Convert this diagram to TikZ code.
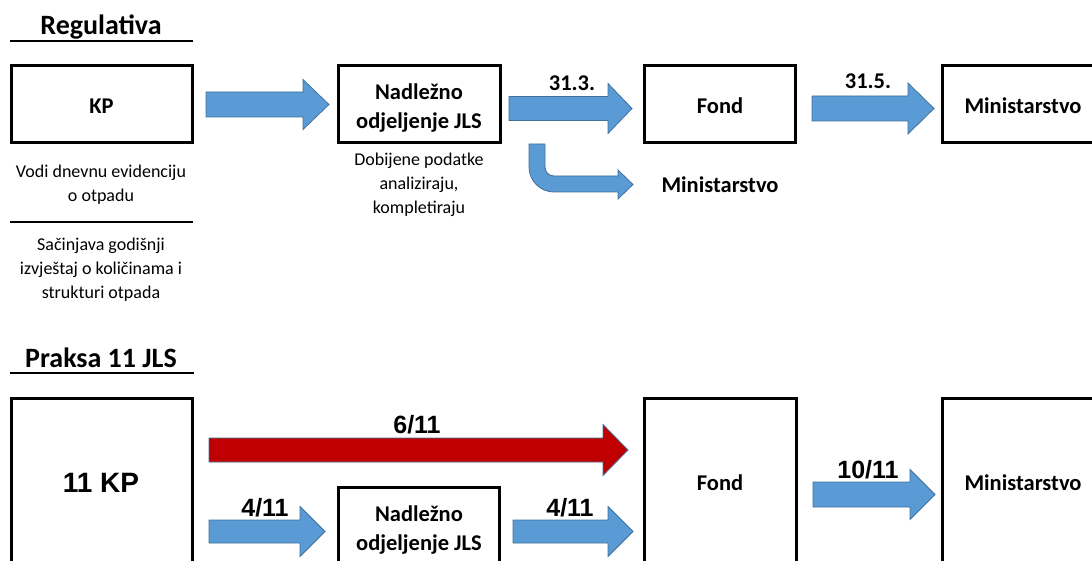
\documentclass[tikz,border=0pt]{standalone}
\usepackage{fontspec}
\setmainfont{Carlito}
\newfontfamily\arialf{Liberation Sans}
\definecolor{arrblue}{HTML}{5B9BD5}
\definecolor{arredge}{HTML}{41719C}
\definecolor{arrred}{HTML}{C00000}
\tikzset{
  frame/.style={draw=black, line width=3pt, fill=white},
  rule/.style={draw=black, line width=2.5pt},
  title/.style={inner sep=0pt, font=\bfseries\fontsize{28}{32}\selectfont},
  lbl/.style={inner sep=0pt, align=center, font=\bfseries\fontsize{22.5}{29}\selectfont},
  desc/.style={inner sep=0pt, align=center, font=\fontsize{18}{24}\selectfont},
  num/.style={inner sep=0pt, font=\arialf\bfseries\fontsize{25}{28}\selectfont},
  datelbl/.style={inner sep=0pt, font=\bfseries\fontsize{22.5}{26}\selectfont},
  barrow/.style={fill=arrblue, draw=arredge, line width=0.8pt},
  rarrow/.style={fill=arrred, draw=arredge, line width=0.8pt},
}
% block arrow: #1 style, #2 left x, #3 center y, #4 head base x, #5 tip x, #6 half body, #7 half head
\newcommand{\blockarr}[7]{%
  \path[#1] (#2,#3-#6) -- (#4,#3-#6) -- (#4,#3-#7) -- (#5,#3) -- (#4,#3+#7) -- (#4,#3+#6) -- (#2,#3+#6) -- cycle;}
\begin{document}
\begin{tikzpicture}[x=1pt,y=-1pt]
\useasboundingbox (0,0) rectangle (1092,561);
\clip (0,0) rectangle (1092,561);

% ---------- Regulativa ----------
\node[title] (t1) at (101,27) {Regulativa};
\coordinate (t1l) at (10,41); \coordinate (t1r) at (193,41);
\draw[rule] (t1l) -- (t1r);

\draw[frame] (11,66) rectangle (192,143);
\node[lbl] (kp) at (101.5,106.5) {KP};
\draw[frame] (338,66) rectangle (500,143);
\node[lbl] (nad) at (419,108) {Nadležno\\odjeljenje JLS};
\draw[frame] (644,66) rectangle (795,143);
\node[lbl] (fond) at (720,106) {Fond};
\draw[frame] (942,66) rectangle (1110,143);
\node[lbl] (min1) at (1023,106) {Ministarstvo};

\blockarr{barrow}{206}{104.5}{303}{329}{12.5}{25}
\blockarr{barrow}{509}{108.5}{608}{632}{12}{25}
\blockarr{barrow}{812}{108.5}{908}{934}{12.5}{25.5}
\node[datelbl] (d1) at (572,83) {31.3.};
\node[datelbl] (d2) at (868,81) {31.5.};

% bent arrow
\path[barrow] (529,144) -- (545,144) -- (545,167) .. controls (545,172) and (549,176) .. (554,176)
  -- (618,176) -- (618,170) -- (633,184.5) -- (618,199) -- (618,192) -- (554,192)
  .. controls (540.2,192) and (529,180.8) .. (529,167) -- cycle;
\node[lbl] (min2) at (720,185) {Ministarstvo};

\node[desc] (dk1) at (101,185) {Vodi dnevnu evidenciju\\o otpadu};
\coordinate (rl) at (10,222); \coordinate (rr) at (193,222);
\draw[draw=black, line width=2pt] (rl) -- (rr);
\node[desc] (dk2) at (101,270) {Sačinjava godišnji\\izvještaj o količinama i\\strukturi otpada};
\node[desc] (dn) at (419,185) {Dobijene podatke\\analiziraju,\\kompletiraju};

% ---------- Praksa 11 JLS ----------
\node[title] (t2) at (101,358) {Praksa 11 JLS};
\coordinate (t2l) at (10,373); \coordinate (t2r) at (194,373);
\draw[rule] (t2l) -- (t2r);

\draw[frame] (11,398) rectangle (192,620);
\node[num, font=\arialf\bfseries\fontsize{28}{32}\selectfont] (kp11) at (101,483) {11 KP};
\draw[frame] (644,398) rectangle (796,620);
\node[lbl] (fond2) at (720,483) {Fond};
\draw[frame] (942,398) rectangle (1110,620);
\node[lbl] (min3) at (1023,483) {Ministarstvo};
\draw[frame] (338,487) rectangle (499,620);
\node[lbl] (nad2) at (419,530) {Nadležno\\odjeljenje JLS};

\blockarr{rarrow}{209}{450}{603}{628}{12}{25.5}
\node[num] (n611) at (417,425) {6/11};
\blockarr{barrow}{209}{531.5}{300}{325}{11.5}{25}
\node[num] (n411a) at (265,508) {4/11};
\blockarr{barrow}{513}{531.5}{608}{633}{11.5}{25}
\node[num] (n411b) at (570,508) {4/11};
\blockarr{barrow}{813}{494.5}{910}{935}{12.5}{25}
\node[num] (n1011) at (868,470) {10/11};
\end{tikzpicture}
\end{document}
